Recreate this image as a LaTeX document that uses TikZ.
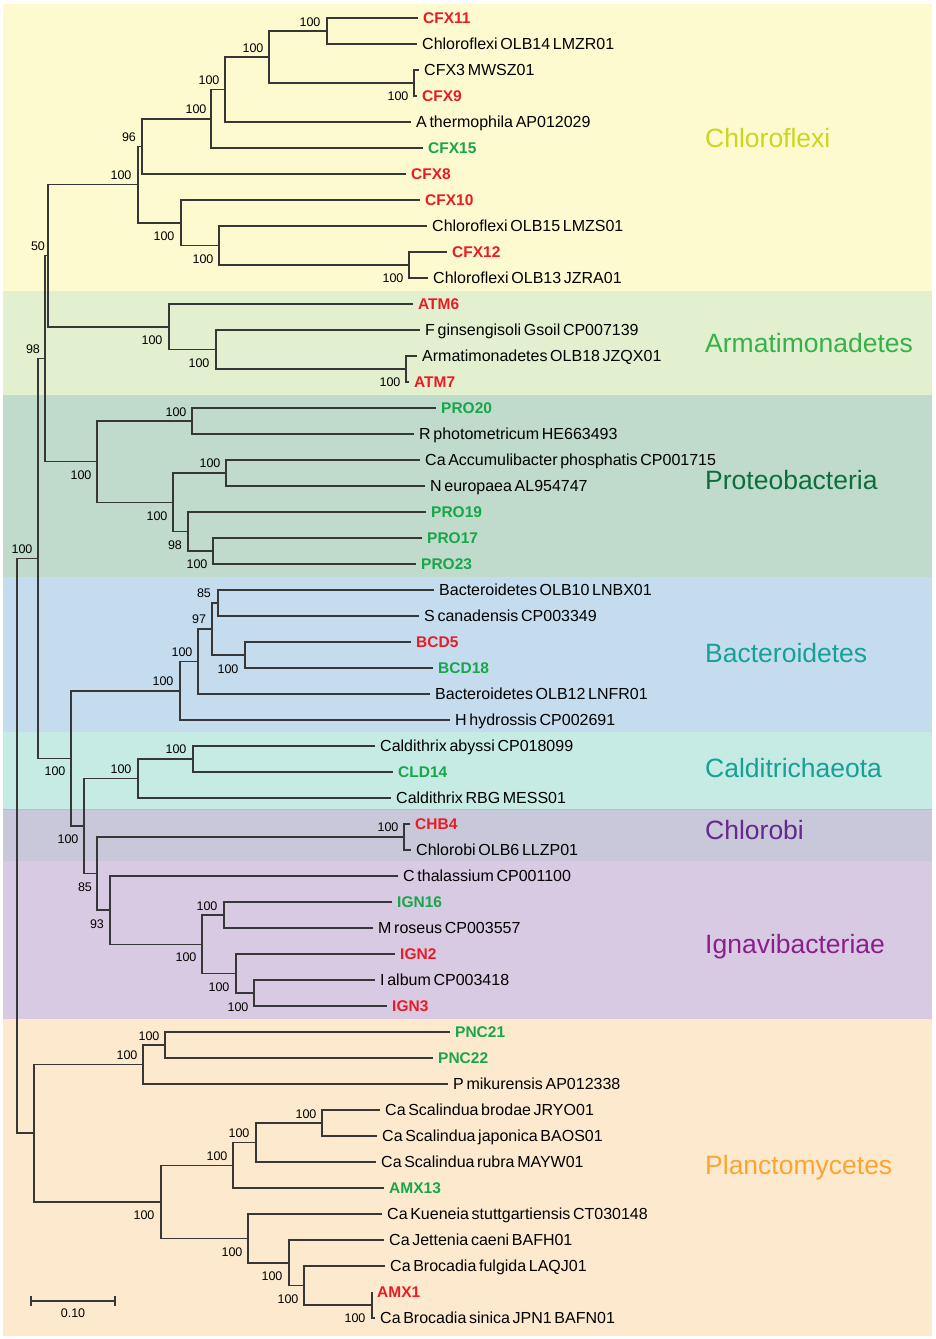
\documentclass[tikz,border=0pt]{standalone}
\usepackage{fontspec}
\setmainfont{Liberation Sans}[WordSpace=0.6]
\definecolor{treec}{RGB}{55,55,55}
\definecolor{lred}{RGB}{232,28,36}
\definecolor{lgreen}{RGB}{24,166,74}
\definecolor{bgchl}{RGB}{253,250,207}
\definecolor{bgarm}{RGB}{227,240,208}
\definecolor{bgpro}{RGB}{192,218,204}
\definecolor{bgbac}{RGB}{196,220,238}
\definecolor{bgcal}{RGB}{198,234,228}
\definecolor{bgcho}{RGB}{200,200,218}
\definecolor{bgign}{RGB}{217,202,228}
\definecolor{bgpla}{RGB}{253,234,206}
\definecolor{tchl}{RGB}{204,214,30}
\definecolor{tarm}{RGB}{52,178,72}
\definecolor{tpro}{RGB}{12,110,60}
\definecolor{tbac}{RGB}{22,160,150}
\definecolor{tcho}{RGB}{102,40,140}
\definecolor{tign}{RGB}{140,30,140}
\definecolor{tpla}{RGB}{250,165,50}
\definecolor{sepline}{RGB}{168,196,200}
\begin{document}
\begin{tikzpicture}[x=1pt,y=-1pt,
  tree/.style={draw=treec,line width=1.5pt},
  leaf/.style={anchor=west,inner xsep=5pt,inner ysep=0pt,text height=11pt,text depth=0pt,font=\fontsize{16}{17}\selectfont},
  lb/.style={leaf,text=black},
  lr/.style={leaf,text=lred,font=\fontsize{15.5}{16}\selectfont\bfseries},
  lg/.style={leaf,text=lgreen,font=\fontsize{15.5}{16}\selectfont\bfseries},
  bs/.style={inner sep=0pt,text height=9pt,text depth=0pt,font=\fontsize{12.5}{13}\selectfont,text=black},
  grp/.style={anchor=base west,inner sep=0pt,font=\fontsize{26.5}{28}\selectfont}]
\useasboundingbox (0,0) rectangle (935,1339);
\fill[white] (0,0) rectangle (935,1339);
% background bands
\fill[bgchl] (3,4) rectangle (932,291);
\fill[bgarm] (3,291) rectangle (932,395);
\fill[bgpro] (3,395) rectangle (932,577);
\fill[bgbac] (3,577) rectangle (932,732);
\fill[bgcal] (3,732) rectangle (932,809);
\fill[bgcho] (3,809) rectangle (932,861);
\fill[bgign] (3,861) rectangle (932,1019);
\fill[bgpla] (3,1019) rectangle (932,1336);
\draw[sepline,line width=1pt] (3,809) -- (932,809);
% group labels
\node[grp,text=tchl] (gchl) at (705,147) {Chloroflexi};
\node[grp,text=tarm] (garm) at (705,352) {Armatimonadetes};
\node[grp,text=tpro] (gpro) at (705,489) {Proteobacteria};
\node[grp,text=tbac] (gbac) at (705,662) {Bacteroidetes};
\node[grp,text=tbac] (gcal) at (705,777) {Calditrichaeota};
\node[grp,text=tcho] (gcho) at (705,839) {Chlorobi};
\node[grp,text=tign] (gign) at (705,953) {Ignavibacteriae};
\node[grp,text=tpla] (gpla) at (705,1174) {Planctomycetes};
% leaves
\node[lr] (l1) at (418,18) {CFX11};
\node[lb] (l2) at (417,44) {Chloroflexi OLB14 LMZR01};
\node[lb] (l3) at (419,70) {CFX3 MWSZ01};
\node[lr] (l4) at (417,96) {CFX9};
\node[lb] (l5) at (411,122) {A thermophila AP012029};
\node[lg] (l6) at (423,148) {CFX15};
\node[lr] (l7) at (406,174) {CFX8};
\node[lr] (l8) at (420,200) {CFX10};
\node[lb] (l9) at (427,226) {Chloroflexi OLB15 LMZS01};
\node[lr] (l10) at (447,252) {CFX12};
\node[lb] (l11) at (428,278) {Chloroflexi OLB13 JZRA01};
\node[lr] (l12) at (413,304) {ATM6};
\node[lb] (l13) at (420,330) {F ginsengisoli Gsoil CP007139};
\node[lb] (l14) at (417,356) {Armatimonadetes OLB18 JZQX01};
\node[lr] (l15) at (409,382) {ATM7};
\node[lg] (l16) at (436,408) {PRO20};
\node[lb] (l17) at (414,434) {R photometricum HE663493};
\node[lb] (l18) at (420,460) {Ca Accumulibacter phosphatis CP001715};
\node[lb] (l19) at (425,486) {N europaea AL954747};
\node[lg] (l20) at (426,512) {PRO19};
\node[lg] (l21) at (422,538) {PRO17};
\node[lg] (l22) at (416,564) {PRO23};
\node[lb] (l23) at (434,590) {Bacteroidetes OLB10 LNBX01};
\node[lb] (l24) at (419,616) {S canadensis CP003349};
\node[lr] (l25) at (411,642) {BCD5};
\node[lg] (l26) at (433,668) {BCD18};
\node[lb] (l27) at (430,694) {Bacteroidetes OLB12 LNFR01};
\node[lb] (l28) at (450,720) {H hydrossis CP002691};
\node[lb] (l29) at (375,746) {Caldithrix abyssi CP018099};
\node[lg] (l30) at (393,772) {CLD14};
\node[lb] (l31) at (391,798) {Caldithrix RBG MESS01};
\node[lr] (l32) at (410,824) {CHB4};
\node[lb] (l33) at (411,850) {Chlorobi OLB6 LLZP01};
\node[lb] (l34) at (398,876) {C thalassium CP001100};
\node[lg] (l35) at (392,902) {IGN16};
\node[lb] (l36) at (373,928) {M roseus CP003557};
\node[lr] (l37) at (395,954) {IGN2};
\node[lb] (l38) at (375,980) {I album CP003418};
\node[lr] (l39) at (387,1006) {IGN3};
\node[lg] (l40) at (450,1032) {PNC21};
\node[lg] (l41) at (433,1058) {PNC22};
\node[lb] (l42) at (448,1084) {P mikurensis AP012338};
\node[lb] (l43) at (380,1110) {Ca Scalindua brodae JRYO01};
\node[lb] (l44) at (377,1136) {Ca Scalindua japonica BAOS01};
\node[lb] (l45) at (376,1162) {Ca Scalindua rubra MAYW01};
\node[lg] (l46) at (384,1188) {AMX13};
\node[lb] (l47) at (382,1214) {Ca Kueneia stuttgartiensis CT030148};
\node[lb] (l48) at (384,1240) {Ca Jettenia caeni BAFH01};
\node[lb] (l49) at (385,1266) {Ca Brocadia fulgida LAQJ01};
\node[lr] (l50) at (372,1292) {AMX1};
\node[lb] (l51) at (375,1318) {Ca Brocadia sinica JPN1 BAFN01};
% internal nodes
\coordinate (nA) at (327,31);
\coordinate (nB) at (414,83);
\coordinate (nC) at (269,57);
\coordinate (nD) at (225,89.5);
\coordinate (nE) at (211,118.75);
\coordinate (nF) at (142,146.4);
\coordinate (nI) at (409,265);
\coordinate (nH) at (219,245.5);
\coordinate (nG) at (181,222.75);
\coordinate (nJ) at (138,184.6);
\coordinate (nP) at (406,369);
\coordinate (nO) at (216,349.5);
\coordinate (nN) at (169,326.75);
\coordinate (nK) at (48,255.7);
\coordinate (nQ) at (192,421);
\coordinate (nT) at (226,473);
\coordinate (nV) at (213,551);
\coordinate (nU) at (188,531.5);
\coordinate (nS) at (173,502.25);
\coordinate (nR) at (97,461.6);
\coordinate (nL) at (45,358.6);
\coordinate (nAB) at (218,603);
\coordinate (nAC) at (245,655);
\coordinate (nAA) at (212,629);
\coordinate (nZ) at (198,661.5);
\coordinate (nX) at (180,690.75);
\coordinate (nAE) at (193,759);
\coordinate (nAD) at (138,778.5);
\coordinate (nAH) at (404,837);
\coordinate (nAJ) at (224,915);
\coordinate (nAL) at (254,993);
\coordinate (nAK) at (236,973.5);
\coordinate (nAI) at (202,944.25);
\coordinate (nAG) at (110,910.1);
\coordinate (nAF) at (97,873.6);
\coordinate (nY) at (84,826);
\coordinate (nW) at (71,758.4);
\coordinate (nM) at (38,558.5);
\coordinate (nAO) at (165,1045);
\coordinate (nAN) at (143,1064.5);
\coordinate (nAS) at (322,1123);
\coordinate (nAR) at (256,1142.5);
\coordinate (nAQ) at (233,1165.25);
\coordinate (nAX) at (372,1305);
\coordinate (nAW) at (304,1285.5);
\coordinate (nAV) at (289,1262.75);
\coordinate (nAU) at (248,1238.4);
\coordinate (nAP) at (161,1201.8);
\coordinate (nAM) at (34,1133.2);
\coordinate (nRoot) at (17,845.8);
% branches
\draw[tree] (l1.west) -| (nA) |- (l2.west);
\draw[tree] (l3.west) -| (nB) |- (l4.west);
\draw[tree] (nA) -| (nC) |- (nB);
\draw[tree] (nC) -| (nD) |- (l5.west);
\draw[tree] (nD) -| (nE) |- (l6.west);
\draw[tree] (nE) -| (nF) |- (l7.west);
\draw[tree] (l10.west) -| (nI) |- (l11.west);
\draw[tree] (l9.west) -| (nH) |- (nI);
\draw[tree] (l8.west) -| (nG) |- (nH);
\draw[tree] (nF) -| (nJ) |- (nG);
\draw[tree] (l14.west) -| (nP) |- (l15.west);
\draw[tree] (l13.west) -| (nO) |- (nP);
\draw[tree] (l12.west) -| (nN) |- (nO);
\draw[tree] (nJ) -| (nK) |- (nN);
\draw[tree] (l16.west) -| (nQ) |- (l17.west);
\draw[tree] (l18.west) -| (nT) |- (l19.west);
\draw[tree] (l21.west) -| (nV) |- (l22.west);
\draw[tree] (l20.west) -| (nU) |- (nV);
\draw[tree] (nT) -| (nS) |- (nU);
\draw[tree] (nQ) -| (nR) |- (nS);
\draw[tree] (nK) -| (nL) |- (nR);
\draw[tree] (l23.west) -| (nAB) |- (l24.west);
\draw[tree] (l25.west) -| (nAC) |- (l26.west);
\draw[tree] (nAB) -| (nAA) |- (nAC);
\draw[tree] (nAA) -| (nZ) |- (l27.west);
\draw[tree] (nZ) -| (nX) |- (l28.west);
\draw[tree] (l29.west) -| (nAE) |- (l30.west);
\draw[tree] (nAE) -| (nAD) |- (l31.west);
\draw[tree] (l32.west) -| (nAH) |- (l33.west);
\draw[tree] (l35.west) -| (nAJ) |- (l36.west);
\draw[tree] (l38.west) -| (nAL) |- (l39.west);
\draw[tree] (l37.west) -| (nAK) |- (nAL);
\draw[tree] (nAJ) -| (nAI) |- (nAK);
\draw[tree] (l34.west) -| (nAG) |- (nAI);
\draw[tree] (nAH) -| (nAF) |- (nAG);
\draw[tree] (nAD) -| (nY) |- (nAF);
\draw[tree] (nX) -| (nW) |- (nY);
\draw[tree] (nL) -| (nM) |- (nW);
\draw[tree] (l40.west) -| (nAO) |- (l41.west);
\draw[tree] (nAO) -| (nAN) |- (l42.west);
\draw[tree] (l43.west) -| (nAS) |- (l44.west);
\draw[tree] (nAS) -| (nAR) |- (l45.west);
\draw[tree] (nAR) -| (nAQ) |- (l46.west);
\draw[tree] (l50.west) -| (nAX) |- (l51.west);
\draw[tree] (l49.west) -| (nAW) |- (nAX);
\draw[tree] (l48.west) -| (nAV) |- (nAW);
\draw[tree] (l47.west) -| (nAU) |- (nAV);
\draw[tree] (nAQ) -| (nAP) |- (nAU);
\draw[tree] (nAN) -| (nAM) |- (nAP);
\draw[tree] (nM) -| (nRoot) |- (nAM);
% bootstrap values
\node[bs] (bA) at (310,22) {100};
\node[bs] (bB) at (398,96) {100};
\node[bs] (bC) at (253,48) {100};
\node[bs] (bD) at (209,80) {100};
\node[bs] (bE) at (196,109) {100};
\node[bs] (bF) at (129,137) {96};
\node[bs] (bI) at (393,278) {100};
\node[bs] (bH) at (203,259) {100};
\node[bs] (bG) at (164,236) {100};
\node[bs] (bJ) at (121,175) {100};
\node[bs] (bP) at (390,382) {100};
\node[bs] (bO) at (199,363) {100};
\node[bs] (bN) at (152,340) {100};
\node[bs] (bK) at (38,246) {50};
\node[bs] (bQ) at (176,412) {100};
\node[bs] (bT) at (210,463) {100};
\node[bs] (bV) at (197,564) {100};
\node[bs] (bU) at (175,545) {98};
\node[bs] (bS) at (157,516) {100};
\node[bs] (bR) at (81,475) {100};
\node[bs] (bL) at (33,349) {98};
\node[bs] (bAB) at (204,593) {85};
\node[bs] (bAC) at (228,669) {100};
\node[bs] (bAA) at (199,619) {97};
\node[bs] (bZ) at (182,652) {100};
\node[bs] (bX) at (163,681) {100};
\node[bs] (bAE) at (176,749) {100};
\node[bs] (bAD) at (121,769) {100};
\node[bs] (bAH) at (388,827) {100};
\node[bs] (bAJ) at (207,906) {100};
\node[bs] (bAL) at (238,1007) {100};
\node[bs] (bAK) at (219,987) {100};
\node[bs] (bAI) at (186,957) {100};
\node[bs] (bAG) at (97,924) {93};
\node[bs] (bAF) at (85,887) {85};
\node[bs] (bY) at (68,839) {100};
\node[bs] (bW) at (55,771) {100};
\node[bs] (bM) at (22,549) {100};
\node[bs] (bAO) at (149,1036) {100};
\node[bs] (bAN) at (127,1055) {100};
\node[bs] (bAS) at (306,1114) {100};
\node[bs] (bAR) at (239,1133) {100};
\node[bs] (bAQ) at (217,1156) {100};
\node[bs] (bAX) at (355,1318) {100};
\node[bs] (bAW) at (288,1299) {100};
\node[bs] (bAV) at (272,1276) {100};
\node[bs] (bAU) at (232,1252) {100};
\node[bs] (bAP) at (144,1215) {100};
% scale bar
\coordinate (sb1) at (31,1301);
\coordinate (sb2) at (115,1301);
\draw[treec,line width=1.5pt] (sb1) -- (sb2);
\draw[treec,line width=1.5pt] ([yshift=-5pt]sb1) -- ([yshift=5pt]sb1);
\draw[treec,line width=1.5pt] ([yshift=-5pt]sb2) -- ([yshift=5pt]sb2);
\node[bs] (sbl) at (73,1313) {0.10};
\end{tikzpicture}
\end{document}
